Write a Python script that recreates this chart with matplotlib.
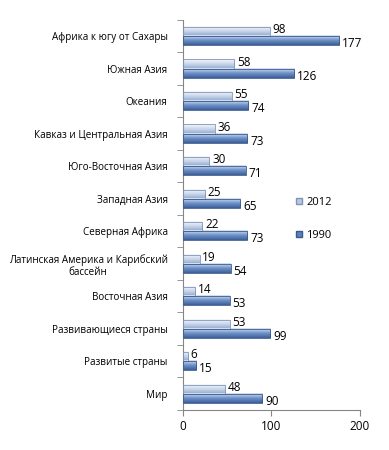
import numpy as np
import matplotlib
matplotlib.use("Agg")
import matplotlib.pyplot as plt
from matplotlib.colors import LinearSegmentedColormap

categories = ["Африка к югу от Сахары", "Южная Азия", "Океания",
              "Кавказ и Центральная Азия", "Юго-Восточная Азия", "Западная Азия",
              "Северная Африка", "Латинская Америка и Карибский\nбассейн",
              "Восточная Азия", "Развивающиеся страны", "Развитые страны", "Мир"]
v2012 = [98, 58, 55, 36, 30, 25, 22, 19, 14, 53, 6, 48]
v1990 = [177, 126, 74, 73, 71, 65, 73, 54, 53, 99, 15, 90]
xticks = [0, 100, 200]

plt.rcParams['font.family'] = ['Open Sans', 'DejaVu Sans']

fig = plt.figure(figsize=(3.89, 4.5), dpi=100)
ax = fig.add_axes([0.470, 0.089, 0.455, 0.867])

y = np.arange(len(categories))
h = 0.28
cm12 = LinearSegmentedColormap.from_list("c12", ["#f4f7fb", "#c9d6ea", "#8fa8cf"])
cm90 = LinearSegmentedColormap.from_list("c90", ["#dbe5f3", "#6f93c9", "#3d5f99"])
grad = np.linspace(0, 1, 32).reshape(-1, 1)

def draw(vals, off, cmap, edge):
    bars = ax.barh(y + off, vals, height=h, color="none", edgecolor=edge, linewidth=0.6, zorder=3)
    for b in bars:
        x0, y0 = b.get_x(), b.get_y()
        ax.imshow(grad, cmap=cmap, aspect="auto", zorder=2,
                  extent=[x0, x0 + b.get_width(), y0 + b.get_height(), y0])
    return bars

b12 = draw(v2012, -h / 2, cm12, "#7f95b8")
b90 = draw(v1990, h / 2, cm90, "#3a5a8c")

for yi, a, b in zip(y, v2012, v1990):
    ax.text(a + 3, yi - h / 2 - 0.06, str(a), va="center", ha="left", fontsize=8.5)
    ax.text(b + 3, yi + h / 2 + 0.1, str(b), va="center", ha="left", fontsize=8.5)

ax.set_xlim(0, 200)
ax.set_ylim(len(categories) - 0.5, -0.5)
ax.set_xticks(xticks)
ax.set_xticklabels([str(t) for t in xticks], fontsize=8.5)
ax.set_yticks(y)
ax.set_yticklabels(categories, fontsize=7.1, ha="right", multialignment="center")
ax.tick_params(axis="y", length=0, pad=11)
ax.set_yticks(np.arange(len(categories) + 1) - 0.5, minor=True)
ax.tick_params(axis="y", which="minor", length=4, color="#868686")
ax.tick_params(axis="x", length=4, color="#868686", direction="out")
for s in ["top", "right"]:
    ax.spines[s].set_visible(False)
for s in ["left", "bottom"]:
    ax.spines[s].set_color("#868686")

ax.add_patch(plt.Rectangle((0, 0), 0, 0, facecolor="#b8c8e2", edgecolor="#7f95b8", label="2012"))
ax.add_patch(plt.Rectangle((0, 0), 0, 0, facecolor="#5b82c0", edgecolor="#3a5a8c", label="1990"))
leg = ax.legend(loc="center left", bbox_to_anchor=(0.585, 0.49), frameon=False, fontsize=8,
                handlelength=0.5, handleheight=0.5, handletextpad=0.4, labelspacing=2.0)

fig.savefig("out.png", dpi=100)
